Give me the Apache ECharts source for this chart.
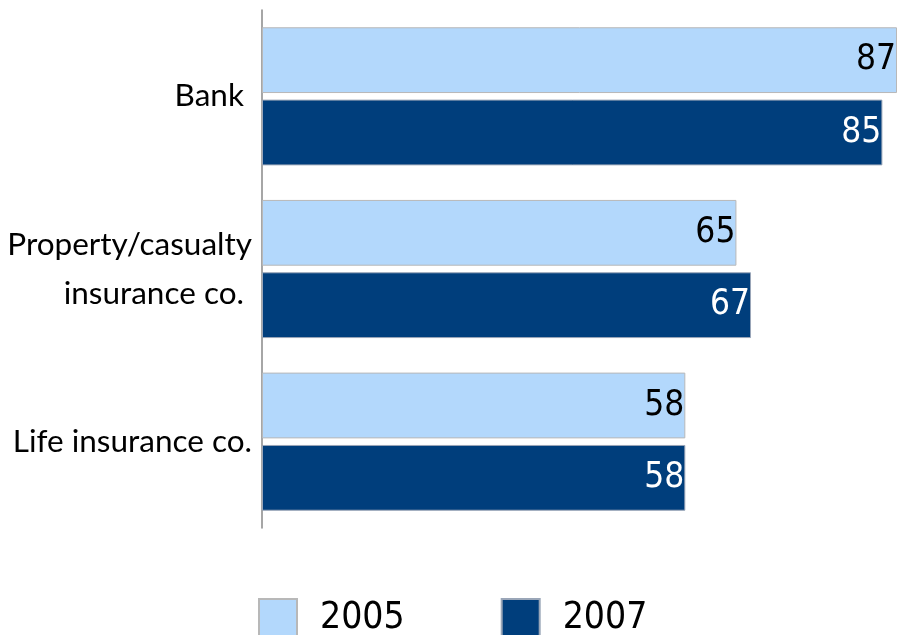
<!DOCTYPE html>
<html style="height: 100%">
   <head>
       <meta charset="utf-8">
   </head>
   <body style="height: 100%; margin: 0">
       <div id="container" style="width: 898px; height: 635px"></div>
       <script type="text/javascript" src="https://cdn.jsdelivr.net/npm/echarts@6/dist/echarts.min.js"></script>
       <script type="text/javascript">

var categories = ['Bank ', 'Property/casualty\ninsurance co. ', 'Life insurance co.'];
var years = ['2005', '2007'];
var values2005 = [87, 65, 58];
var values2007 = [85, 67, 58];

var labelFont = 'Lato, "DejaVu Sans Condensed", sans-serif';
var numFont = '"DejaVu Sans Condensed", Lato, sans-serif';

var dom = document.getElementById("container");
var myChart = echarts.init(dom);

var option = {
    animation: false,
    grid: {
        left: 262,
        right: 1,
        top: 10,
        bottom: 107,
        outerBoundsMode: 'none'
    },
    xAxis: {
        type: 'value',
        min: 0,
        max: 87,
        show: false
    },
    yAxis: {
        type: 'category',
        inverse: true,
        data: categories,
        axisLine: { show: true, lineStyle: { color: '#888888', width: 1.5 } },
        axisTick: { show: false },
        axisLabel: {
            margin: 10,
            color: '#000',
            fontFamily: labelFont,
            fontSize: 31.5,
            lineHeight: 49,
            align: 'right'
        }
    },
    legend: {
        left: 253,
        top: 593,
        itemWidth: 38,
        itemHeight: 38,
        itemGap: 96,
        icon: 'rect',
        data: years,
        textStyle: {
            color: '#000',
            fontFamily: numFont,
            fontSize: 37,
            padding: [0, 0, 0, 18]
        }
    },
    series: [
        {
            name: years[0],
            type: 'bar',
            data: values2005,
            barGap: '10%',
            barCategoryGap: '20%',
            itemStyle: { color: '#b3d8fc', borderColor: '#b8b8b8', borderWidth: 1 },
            label: {
                show: true,
                position: 'insideRight',
                offset: [4, 0],
                color: '#000',
                fontFamily: numFont,
                fontSize: 35
            }
        },
        {
            name: years[1],
            type: 'bar',
            data: values2007,
            barGap: '10%',
            barCategoryGap: '20%',
            itemStyle: { color: '#003e7c', borderColor: '#9aa6b8', borderWidth: 1 },
            label: {
                show: true,
                position: 'insideRight',
                offset: [4, 0],
                color: '#fff',
                fontFamily: numFont,
                fontSize: 35
            }
        }
    ]
};

myChart.setOption(option);
window.onresize = function() {
    myChart.resize();
};
       </script>
   </body>
</html>
